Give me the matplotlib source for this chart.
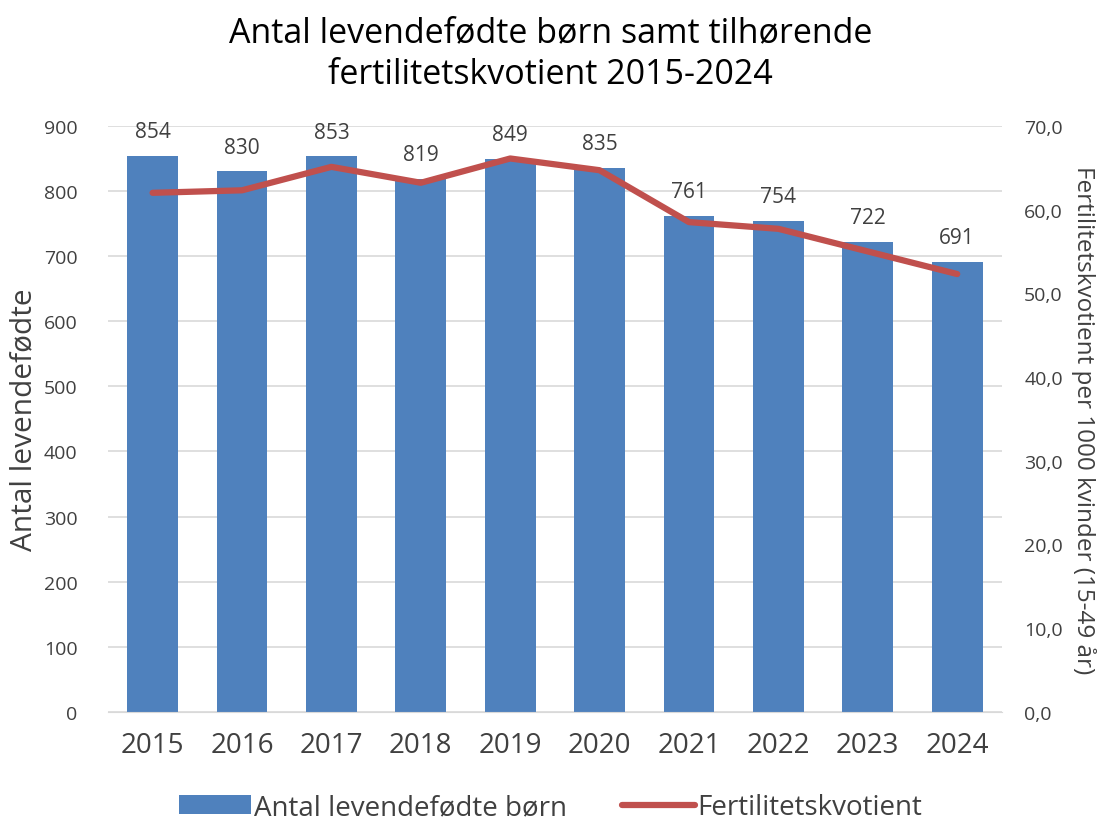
import matplotlib.pyplot as plt
from matplotlib.ticker import FuncFormatter

plt.rcParams['font.family'] = ['Open Sans', 'DejaVu Sans']

years = ['2015', '2016', '2017', '2018', '2019', '2020', '2021', '2022', '2023', '2024']
births = [854, 830, 853, 819, 849, 835, 761, 754, 722, 691]
fertility = [62.0, 62.3, 65.1, 63.2, 66.1, 64.7, 58.5, 57.7, 55.0, 52.3]

bar_color = '#4F81BD'
line_color = '#C0504D'
text_color = '#404040'

fig = plt.figure(figsize=(11.01, 8.29), dpi=100)
ax = fig.add_axes([0.098, 0.140, 0.812, 0.707])
ax2 = ax.twinx()

x = range(len(years))
bars = ax.bar(x, births, width=0.57, color=bar_color, zorder=2, label='Antal levendefødte børn')
line, = ax2.plot(x, fertility, color=line_color, lw=4.5, solid_capstyle='round',
                 solid_joinstyle='round', label='Fertilitetskvotient')

for i, v in enumerate(births):
    ax.annotate(str(v), (i, v), xytext=(0, 10), textcoords='offset points',
                ha='center', va='bottom', fontsize=15, color=text_color)

ax.set_xlim(-0.5, len(years) - 0.5)
ax.set_ylim(0, 900)
ax.set_yticks(range(0, 901, 100))
ax2.set_ylim(0, 70)
ax2.set_yticks(range(0, 71, 10))
ax2.yaxis.set_major_formatter(FuncFormatter(lambda v, p: f'{v:.1f}'.replace('.', ',')))

ax.set_xticks(list(x))
ax.set_xticklabels(years)
ax.grid(axis='y', color='#D9D9D9', lw=1.2, zorder=0)
ax.set_axisbelow(True)

for a in (ax, ax2):
    for s in a.spines.values():
        s.set_visible(False)
ax.spines['bottom'].set_visible(True)
ax.spines['bottom'].set_color('#D9D9D9')

ax.tick_params(axis='y', length=0, labelsize=14, labelcolor=text_color, pad=22)
ax.tick_params(axis='x', length=0, labelsize=20, labelcolor=text_color, pad=14)
ax2.tick_params(axis='y', length=0, labelsize=14, labelcolor=text_color, pad=16)

ax.set_ylabel('Antal levendefødte', fontsize=21.5, color=text_color, labelpad=4)
ax2.set_ylabel('Fertilitetskvotient per 1000 kvinder (15-49 år)', fontsize=17.5,
               color=text_color, rotation=270, labelpad=24)

fig.suptitle('Antal levendefødte børn samt tilhørende\nfertilitetskvotient 2015-2024',
             fontsize=24.5, y=0.980, linespacing=1.3)

fig.legend([bars, line], ['Antal levendefødte børn', 'Fertilitetskvotient'],
           loc='lower center', bbox_to_anchor=(0.5, -0.022), ncol=2, frameon=False,
           fontsize=20, labelcolor=text_color, handlelength=2.6, handletextpad=0.1,
           columnspacing=2.0)

fig.savefig('out.png', dpi=100)
